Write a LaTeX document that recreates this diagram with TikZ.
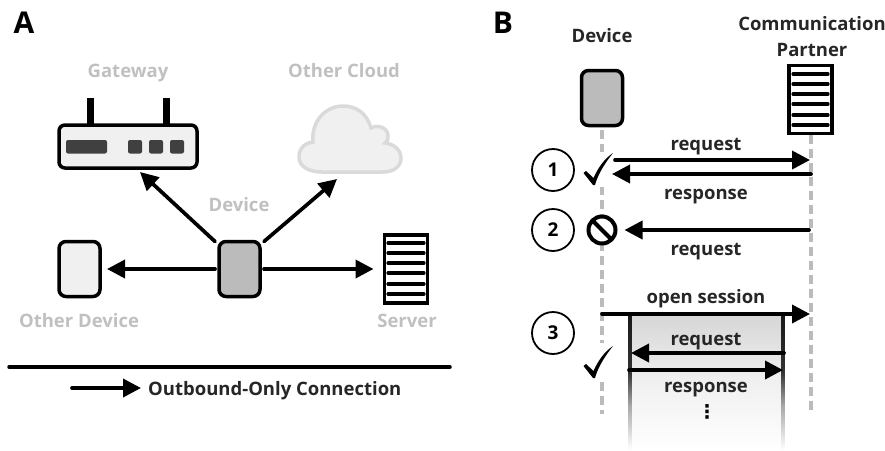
\documentclass[tikz,border=0pt]{standalone}
\usepackage{fontspec}
\setmainfont{Open Sans}
\newfontfamily\symbolfont{DejaVu Sans}
\usetikzlibrary{arrows.meta}

\definecolor{lightfill}{HTML}{F0F0F0}
\definecolor{midfill}{HTML}{BBBBBB}
\definecolor{fadedtext}{HTML}{C0C0C0}
\definecolor{cloudline}{HTML}{DADADA}

\tikzset{
    conn/.style={-{Triangle[length=18pt,width=18pt]}, line width=3.7pt, line cap=round},
    lifeline/.style={midfill, line width=3.5pt, dash pattern=on 9pt off 5pt},
    devbox/.style={draw, line width=3.5pt, rounded corners=7pt, minimum width=41pt, minimum height=55pt, outer sep=0pt},
    srvbox/.style={draw, line width=3.5pt, fill=white, minimum width=43pt, minimum height=68pt, outer sep=0pt},
    srvline/.style={line width=3.2pt, line cap=round},
    faded/.style={text=fadedtext, anchor=base, inner sep=0pt, font=\bfseries\fontsize{18.5}{22}\selectfont},
    dark/.style={text=black!85, anchor=base, inner sep=0pt, font=\bfseries\fontsize{18.5}{26}\selectfont},
    panel/.style={anchor=base, inner sep=0pt, font=\bfseries\fontsize{30}{32}\selectfont},
    stepcirc/.style={draw, circle, line width=1.8pt, minimum size=42pt, inner sep=0pt, font=\bfseries\fontsize{19}{20}\selectfont},
    pics/tick/.style={code={
        \fill (-9.5,1) -- (-7,-1) -- (0.5,6) .. controls (5,-4) and (11,-13) .. (20,-19)
            .. controls (12,-9) and (5,2) .. (2,13) -- (0,13) -- cycle;
    }}
}

\begin{document}
\begin{tikzpicture}[x=1pt, y=-1pt]
    \useasboundingbox (0, 0) rectangle (885, 450);

    % panel A
    \node[panel] (labelA) at (24, 33) {A};
    \node[faded] (gwtext) at (128, 77) {Gateway};
    \node[faded] (cloudtext) at (344, 77) {Other Cloud};
    \node[faded] (devtext) at (239, 211) {Device};
    \node[faded] (othertext) at (79, 327) {Other Device};
    \node[faded] (srvtext) at (407, 327) {Server};

    \draw[line width=7pt] (90, 98) -- (90, 126);
    \draw[line width=7pt] (166, 98) -- (166, 126);
    \node[draw, line width=3.5pt, rounded corners=6pt, fill=lightfill, minimum width=138pt, minimum height=43pt, outer sep=0pt] (gw) at (128, 146.5) {};
    \fill[black!75, rounded corners=2pt] (66, 140) rectangle (107, 153.5);
    \foreach \x in {128, 149, 170}
        \fill[black!75, rounded corners=2pt] (\x, 140) rectangle (\x+14, 153.5);

    \draw[cloudline, fill=lightfill, line width=3.5pt]
        (322, 172) .. controls (308, 172) and (299, 166) .. (299, 157)
        .. controls (299, 148) and (305, 143) .. (313, 142)
        .. controls (311, 122) and (325, 106) .. (343, 106)
        .. controls (357, 106) and (367, 114) .. (371, 128)
        .. controls (378, 124) and (389, 128) .. (388, 137)
        .. controls (388, 140) and (387, 142) .. (385, 143)
        .. controls (394, 144) and (401, 150) .. (401, 158)
        .. controls (401, 167) and (393, 172) .. (383, 172) -- cycle;
    \coordinate (cloudtip) at (337, 179);

    \node[devbox, fill=midfill] (dev) at (239.5, 269) {};
    \node[devbox, fill=lightfill] (other) at (79.5, 269) {};
    \node[srvbox] (srv) at (406, 269) {};
    \foreach \y in {243, 253, 263, 273, 284, 294}
        \draw[srvline] (388, \y) -- (424, \y);

    \draw[conn] ([xshift=-4pt]dev.north west) -- ([xshift=12pt, yshift=-4pt]gw.south);
    \draw[conn] ([xshift=4pt]dev.north east) -- (cloudtip);
    \draw[conn] ([xshift=-4pt]dev.west) -- ([xshift=7pt]other.east);
    \draw[conn] ([xshift=4pt]dev.east) -- ([xshift=-11pt]srv.west);

    \coordinate (divleft) at (9, 367);
    \coordinate (divright) at (450, 367);
    \draw[line width=3.5pt, line cap=round] (divleft) -- (divright);
    \node[dark, anchor=base west] (legend) at (148, 395) {Outbound-Only Connection};
    \coordinate (legstart) at (72, 388);
    \coordinate (legtip) at (141, 388);
    \draw[conn] (legstart) -- (legtip);

    % panel B
    \node[panel] (labelB) at (503, 33) {B};
    \node[dark] (devBtext) at (602, 42) {Device};
    \node[dark, anchor=center, align=center] (partnertext) at (812, 37) {Communication\\Partner};

    \coordinate (lifeA) at (602, 130);
    \coordinate (lifeAend) at (602, 414);
    \coordinate (lifeB) at (811, 135);
    \coordinate (lifeBend) at (811, 414);
    \draw[lifeline] (lifeA) -- (lifeAend);
    \draw[lifeline] (lifeB) -- (lifeBend);

    \node[devbox, fill=midfill] (devB) at (602, 98) {};
    \node[srvbox] (srvB) at (810.5, 99.5) {};
    \foreach \y in {74, 84, 94, 104, 115, 125}
        \draw[srvline] (793, \y) -- (828, \y);

    % session
    \shade[top color=black!16, bottom color=black!6] (630, 315) rectangle (783, 380);
    \shade[top color=black!6, bottom color=white] (630, 380) rectangle (783, 450);
    \foreach \x in {628, 781} {
        \shade[top color=black!90, bottom color=black!80] (\x, 315) rectangle (\x+3.5, 372);
        \shade[top color=black!80, bottom color=black!35] (\x, 372) rectangle (\x+3.5, 405);
        \shade[top color=black!35, bottom color=white] (\x, 405) rectangle (\x+3.5, 450);
    }

    % step 1
    \node[stepcirc] (one) at (553, 170) {1};
    \fill[white] (582, 152) rectangle (614, 187);
    \pic at (593, 172) {tick};
    \coordinate (reqAa) at (615, 160);
    \coordinate (reqAb) at (810, 160);
    \coordinate (resAa) at (811, 174);
    \coordinate (resAb) at (612, 174);
    \draw[conn] (reqAa) -- (reqAb);
    \draw[conn] (resAa) -- (resAb);
    \node[dark] (reqAtext) at (706, 150.5) {request};
    \node[dark] (resAtext) at (706, 199) {response};

    % step 2
    \node[stepcirc] (two) at (553, 230) {2};
    \node[draw, circle, fill=white, line width=4pt, minimum size=27pt, inner sep=0pt, outer sep=0pt] (block) at (602, 230) {};
    \draw[line width=4pt] (block.north west) -- (block.south east);
    \coordinate (reqBa) at (809, 230);
    \draw[conn] (reqBa) -- ([xshift=9pt]block.east);
    \node[dark] (reqBtext) at (706, 255) {request};

    % step 3
    \node[stepcirc] (three) at (553, 333) {3};
    \fill[white] (582, 343) rectangle (614, 380);
    \pic at (593, 365) {tick};
    \coordinate (openA) at (602, 314);
    \coordinate (openB) at (810, 314);
    \draw[conn] (openA) -- (openB);
    \node[dark] (opentext) at (706, 303.5) {open session};
    \coordinate (reqCa) at (784, 353);
    \coordinate (reqCb) at (631, 353);
    \coordinate (resCa) at (629, 370);
    \coordinate (resCb) at (783, 370);
    \draw[conn] (reqCa) -- (reqCb);
    \draw[conn] (resCa) -- (resCb);
    \node[dark] (reqCtext) at (706, 345.5) {request};
    \node[dark] (resCtext) at (706, 392) {response};
    \node[text=black, font=\symbolfont\bfseries\fontsize{19}{20}\selectfont] (dots) at (707, 412) {⋮};
\end{tikzpicture}
\end{document}
